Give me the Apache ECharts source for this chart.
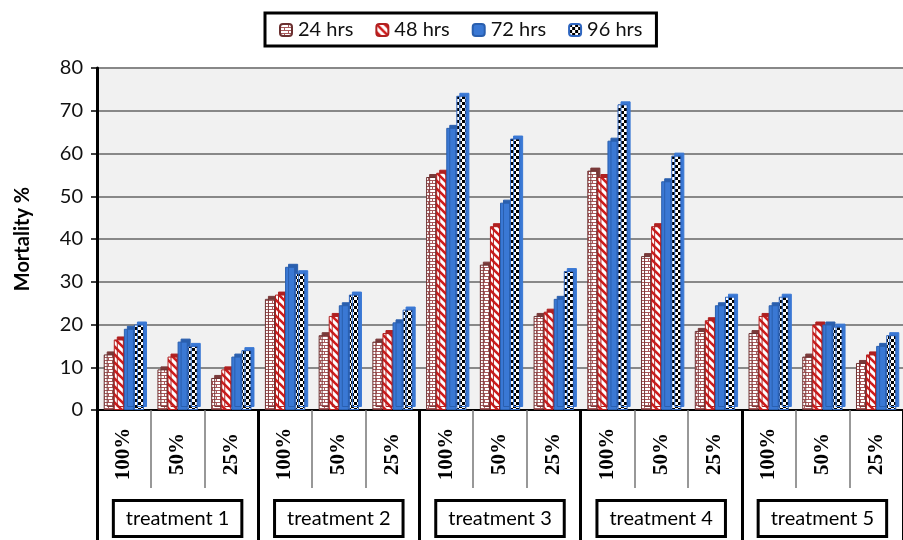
<!DOCTYPE html>
<html>
<head>
<meta charset="utf-8">
<script src="https://cdn.jsdelivr.net/npm/echarts@6/dist/echarts.min.js"></script>
<style>html,body{margin:0;padding:0;background:#fff;}#c{width:903px;height:540px;}</style>
</head>
<body>
<div id="c"></div>
<script>
// ---- data ----
var doses = ['100%', '50%', '25%', '100%', '50%', '25%', '100%', '50%', '25%', '100%', '50%', '25%', '100%', '50%', '25%'];
var treatments = ['treatment 1', 'treatment 2', 'treatment 3', 'treatment 4', 'treatment 5'];
var seriesNames = ['24 hrs', '48 hrs', '72 hrs', '96 hrs'];
var hrs24 = [13, 9.5, 7.5, 26, 17.5, 16, 54.5, 34, 22, 56, 36, 18.5, 18, 12.5, 11];
var hrs48 = [16.5, 12.5, 9.5, 27, 22, 18, 55.5, 43, 23, 54.5, 43, 21, 22, 20, 13];
var hrs72 = [19, 16, 12.5, 33.5, 24.5, 20.5, 66, 48.5, 26, 63, 53.5, 24.5, 24.5, 20, 15];
var hrs96 = [20, 15, 14, 32, 27, 23.5, 73.5, 63.5, 32.5, 71.5, 59.5, 26.5, 26.5, 19.5, 17.5];
var yTicks = [0, 10, 20, 30, 40, 50, 60, 70, 80];

// ---- patterns ----
function mk(w, h, draw) {
  var c = document.createElement('canvas'); c.width = w; c.height = h;
  var g = c.getContext('2d'); draw(g); return c;
}
var brick = mk(8, 6, function (g) {
  g.fillStyle = '#fff'; g.fillRect(0, 0, 8, 6);
  g.fillStyle = '#a8585a';
  g.fillRect(0, 0, 8, 1); g.fillRect(0, 3, 8, 1);
  g.fillRect(0, 0, 1, 3); g.fillRect(4, 3, 1, 3);
});
var stripe = mk(8, 8, function (g) {
  g.fillStyle = '#fff'; g.fillRect(0, 0, 8, 8);
  g.strokeStyle = '#d01c1c'; g.lineWidth = 2.6;
  for (var k = -2; k <= 2; k++) {
    g.beginPath(); g.moveTo(k * 8 - 2, -2); g.lineTo(k * 8 + 10, 10); g.stroke();
  }
});
var checker = mk(6, 6, function (g) {
  g.fillStyle = '#fff'; g.fillRect(0, 0, 6, 6);
  g.fillStyle = '#000'; g.fillRect(0, 0, 3, 3); g.fillRect(3, 3, 3, 3);
});

var styles = [
  { color: { image: brick, repeat: 'repeat' }, borderColor: '#6b3030', side: '#7a3a3a' },
  { color: { image: stripe, repeat: 'repeat' }, borderColor: '#b02020', side: '#b02020' },
  { color: '#3a78d4', borderColor: '#2a5fae', side: '#2a5fae' },
  { color: { image: checker, repeat: 'repeat' }, borderColor: '#2f66c0', side: '#3a78d4' }
];
var values = [hrs24, hrs48, hrs72, hrs96];

var series = seriesNames.map(function (n, i) {
  return {
    name: n, type: 'bar', data: values[i],
    barGap: '0%', barCategoryGap: '25%',
    xAxisIndex: 0,
    itemStyle: {
      color: styles[i].color, borderColor: styles[i].borderColor, borderWidth: 1,
      shadowColor: styles[i].side, shadowBlur: 0, shadowOffsetX: 3, shadowOffsetY: -3
    },
    emphasis: { disabled: true }
  };
});

var chart = echarts.init(document.getElementById('c'), null, { renderer: 'canvas' });
chart.setOption({
  animation: false,
  backgroundColor: '#fff',
  legend: {
    data: seriesNames, left: 265, top: 13,
    itemWidth: 12, itemHeight: 12, itemGap: 22,
    padding: [7, 14, 6, 14],
    borderColor: '#000', borderWidth: 3,
    itemStyle: { shadowBlur: 0, shadowColor: 'rgba(0,0,0,0)', shadowOffsetX: 0, shadowOffsetY: 0 },
    textStyle: { fontSize: 20, fontFamily: 'Lato', color: '#111', padding: [0, 0, 0, 1] }
  },
  grid: {
    left: 97, right: -10, top: 68, bottom: 130,
    show: true, backgroundColor: '#f1f1f1', borderWidth: 0
  },
  xAxis: [
    {
      type: 'category', data: doses, position: 'bottom',
      axisLine: { show: true, lineStyle: { color: '#000', width: 2 } },
      axisTick: { show: true, interval: 0, length: 78, lineStyle: { color: '#777', width: 1.5 } },
      axisLabel: {
        interval: 0, rotate: 90, align: 'center', margin: 44,
        fontFamily: 'Liberation Serif', fontWeight: 'bold', fontSize: 21, color: '#000'
      },
      splitLine: { show: false }
    },
    {
      type: 'category', data: treatments, position: 'bottom',
      axisLine: { show: false },
      axisTick: { show: true, interval: 0, length: 132, lineStyle: { color: '#000', width: 3 } },
      axisLabel: {
        interval: 0, margin: 92,
        fontFamily: 'Lato', fontSize: 20, color: '#000',
        backgroundColor: '#fff', borderColor: '#000', borderWidth: 3,
        padding: [7, 11, 6, 11]
      },
      splitLine: { show: false }
    }
  ],
  yAxis: {
    type: 'value', min: yTicks[0], max: yTicks[yTicks.length - 1], interval: 10,
    name: 'Mortality %', nameLocation: 'middle', nameGap: 64,
    nameTextStyle: { fontFamily: 'Lato', fontWeight: 'bold', fontSize: 20, color: '#000' },
    axisLine: { show: true, lineStyle: { color: '#000', width: 3 } },
    axisTick: { show: true, length: 6, lineStyle: { color: '#000', width: 1.5 } },
    axisLabel: { fontFamily: 'Lato', fontSize: 20, color: '#111', margin: 14 },
    splitLine: { show: true, lineStyle: { color: '#888', width: 2 } }
  },
  series: series
});
</script>
</body>
</html>
